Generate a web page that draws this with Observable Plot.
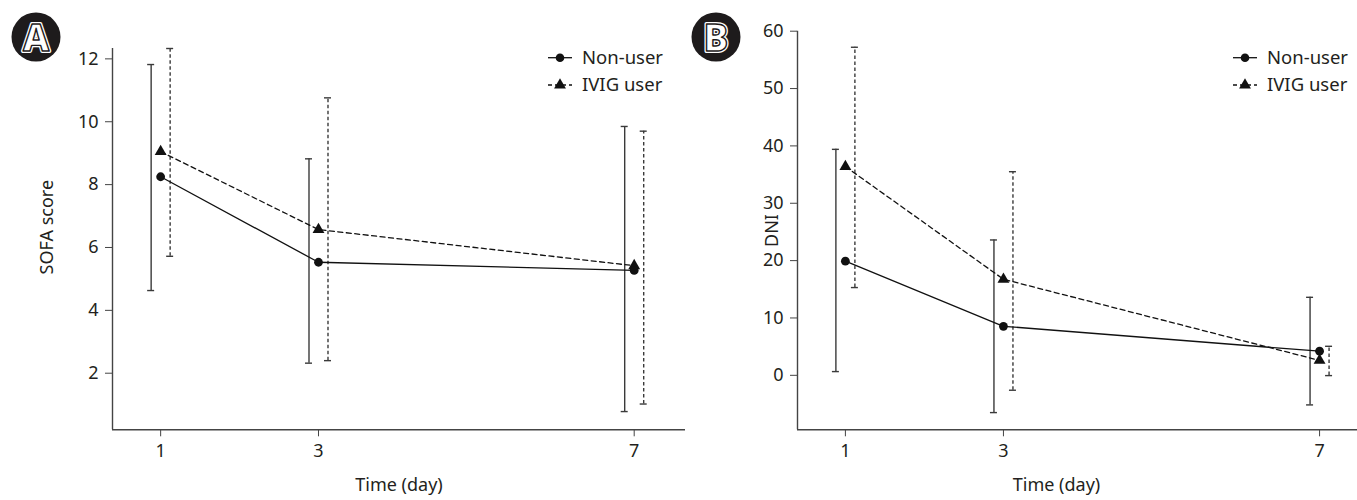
<!DOCTYPE html>
<html>
<head>
<meta charset="utf-8">
<script src="https://cdn.jsdelivr.net/npm/d3@7"></script>
<script src="https://cdn.jsdelivr.net/npm/@observablehq/plot@0.6"></script>
<style>
  html, body { margin: 0; padding: 0; background: #fff; }
  #wrap { position: relative; width: 1357px; height: 500px; overflow: hidden; font-family: "Noto Sans", sans-serif; }
  #wrap > svg { position: absolute; top: 0; }
</style>
</head>
<body>
<div id="wrap"></div>
<script>
// ---- data ----
const days = [1, 3, 7];
const seriesNames = ["Non-user", "IVIG user"];

// Panel A: SOFA score (mean, lower, upper)
const sofaNonMean = [8.25, 5.53, 5.27];
const sofaNonLo   = [4.63, 2.32, 0.78];
const sofaNonHi   = [11.82, 8.82, 9.85];
const sofaIvigMean = [9.05, 6.57, 5.42];
const sofaIvigLo   = [5.72, 2.40, 1.02];
const sofaIvigHi   = [12.33, 10.76, 9.70];
const sofaTicks = [2, 4, 6, 8, 10, 12];

// Panel B: DNI
const dniNonMean = [19.9, 8.55, 4.2];
const dniNonLo   = [0.65, -6.5, -5.16];
const dniNonHi   = [39.4, 23.6, 13.6];
const dniIvigMean = [36.4, 16.75, 2.6];
const dniIvigLo   = [15.3, -2.6, -0.05];
const dniIvigHi   = [57.2, 35.5, 5.06];
const dniTicks = [0, 10, 20, 30, 40, 50, 60];

const rows = (mean, lo, hi) => days.map((d, i) => ({day: d, mean: mean[i], lo: lo[i], hi: hi[i]}));

const FONT = "Noto Sans, sans-serif";
const TXT = "#231f20";

function panel({non, ivig, width, marginLeft, marginRight, marginTop, xDomain, yDomain, yTicks, yLabel, yLabelDx, yLabelDy, xLabelDx}) {
  const capOpts = {insetLeft: -3.5, insetRight: -3.5, stroke: "#3a3a3a", strokeWidth: 1.4};
  return Plot.plot({
    width, height: 500,
    marginLeft, marginRight, marginTop, marginBottom: 70.7,
    x: {domain: xDomain},
    y: {domain: yDomain},
    style: {fontFamily: FONT, fontSize: "18px", color: TXT, background: "transparent", overflow: "visible"},
    marks: [
      Plot.axisX({ticks: days, tickSize: 7, tickPadding: 7, label: null, stroke: "#444", fontSize: 18}),
      Plot.axisY({ticks: yTicks, tickSize: 7, tickPadding: 7, label: null, stroke: "#444", fontSize: 18}),
      Plot.ruleX([xDomain[0]], {stroke: "#444", strokeWidth: 1.4}),
      Plot.ruleY([yDomain[0]], {stroke: "#444", strokeWidth: 1.4}),
      // error bars
      Plot.ruleX(non, {x: "day", y1: "lo", y2: "hi", dx: -9.5, stroke: "#3a3a3a", strokeWidth: 1.4}),
      Plot.ruleY(non, {x1: "day", x2: "day", y: "hi", dx: -9.5, ...capOpts}),
      Plot.ruleY(non, {x1: "day", x2: "day", y: "lo", dx: -9.5, ...capOpts}),
      Plot.ruleX(ivig, {x: "day", y1: "lo", y2: "hi", dx: 9.5, stroke: "#3a3a3a", strokeWidth: 1.4, strokeDasharray: "3.5,2.5"}),
      Plot.ruleY(ivig, {x1: "day", x2: "day", y: "hi", dx: 9.5, ...capOpts}),
      Plot.ruleY(ivig, {x1: "day", x2: "day", y: "lo", dx: 9.5, ...capOpts}),
      // lines
      Plot.line(ivig, {x: "day", y: "mean", stroke: "#111", strokeWidth: 1.3, strokeDasharray: "5,3.5"}),
      Plot.line(non, {x: "day", y: "mean", stroke: "#111", strokeWidth: 1.3}),
      // markers
      Plot.dot(ivig, {x: "day", y: "mean", symbol: "triangle", r: 4.4, fill: "#111", stroke: "none"}),
      Plot.dot(non, {x: "day", y: "mean", r: 4.4, fill: "#111", stroke: "none"}),
      // axis titles
      Plot.text(["Time (day)"], {frameAnchor: "bottom", dy: 61, dx: xLabelDx, fontSize: 18, fill: TXT}),
      Plot.text([yLabel], {frameAnchor: "left", textAnchor: "middle", rotate: -90, dx: yLabelDx, dy: yLabelDy, fontSize: 18, fill: TXT})
    ]
  });
}

const wrap = document.getElementById("wrap");

const svgA = panel({
  non: rows(sofaNonMean, sofaNonLo, sofaNonHi),
  ivig: rows(sofaIvigMean, sofaIvigLo, sofaIvigHi),
  width: 690, marginLeft: 112, marginRight: 5, marginTop: 48,
  xDomain: [0.39, 7.65], yDomain: [0.2, 12.33], yTicks: sofaTicks,
  yLabel: "SOFA score", yLabelDx: -65, yLabelDy: -12, xLabelDx: 0
});
svgA.style.left = "0px";
wrap.appendChild(svgA);

const svgB = panel({
  non: rows(dniNonMean, dniNonLo, dniNonHi),
  ivig: rows(dniIvigMean, dniIvigLo, dniIvigHi),
  width: 667, marginLeft: 107, marginRight: 0, marginTop: 30.7,
  xDomain: [0.394, 7.48], yDomain: [-9.5, 60], yTicks: dniTicks,
  yLabel: "DNI", yLabelDx: -25, yLabelDy: 0, xLabelDx: -21
});
svgB.style.left = "690px";
wrap.appendChild(svgB);

// ---- overlay: panel badges and legends ----
const ov = d3.select(wrap).append("svg")
  .attr("width", 1357).attr("height", 500)
  .style("left", "0px").style("pointer-events", "none");

function badge(cx, cy, letter) {
  const g = ov.append("g");
  g.append("circle").attr("cx", cx).attr("cy", cy).attr("r", 24.5).attr("fill", "#1e1b1c");
  const t = (stroke, sw) => g.append("text").attr("x", cx).attr("y", cy).attr("dy", "0.37em")
    .attr("text-anchor", "middle").attr("font-family", FONT).attr("font-weight", 800)
    .attr("font-size", 37).attr("fill", "#fff").attr("stroke", stroke).attr("stroke-width", sw)
    .attr("stroke-linejoin", "round").text(letter);
  t("#fff", 4);
  t("#1e1b1c", 1.4);
}
badge(36, 37, "A");
badge(716, 37, "B");

function legend(x0, y0) {
  const g = ov.append("g").attr("transform", `translate(${x0},${y0})`);
  const gap = 27.3;
  seriesNames.forEach((name, i) => {
    const y = i * gap;
    g.append("line").attr("x1", 0).attr("x2", 24).attr("y1", y).attr("y2", y)
      .attr("stroke", "#111").attr("stroke-width", 1.3)
      .attr("stroke-dasharray", i === 1 ? "4,3" : null);
    if (i === 0) {
      g.append("circle").attr("cx", 12).attr("cy", y).attr("r", 4.3).attr("fill", "#111");
    } else {
      g.append("path").attr("transform", `translate(12,${y})`)
        .attr("d", d3.symbol(d3.symbolTriangle, 4.4 * 4.4 * Math.PI)()).attr("fill", "#111");
    }
    g.append("text").attr("x", 34).attr("y", y).attr("dy", "0.35em")
      .attr("font-family", FONT).attr("font-size", 18.5).attr("fill", TXT).text(name);
  });
}
legend(548, 57.7);
legend(1233, 57.7);
</script>
</body>
</html>
